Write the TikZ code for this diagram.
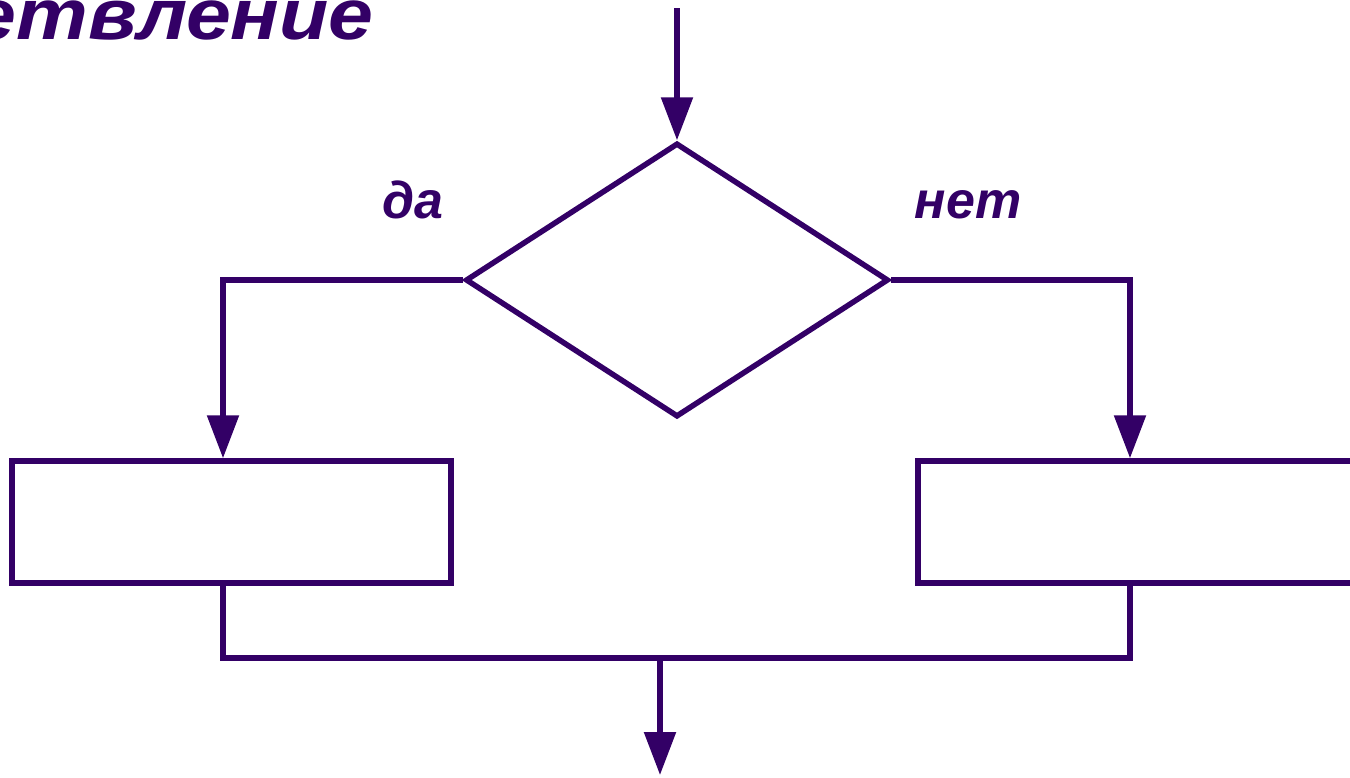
\documentclass[tikz,border=0pt]{standalone}
\usepackage{fontspec}
\setmainfont{Liberation Sans}
\usetikzlibrary{shapes.geometric,arrows.meta}
\definecolor{ink}{HTML}{330066}
\tikzset{
  line/.style={draw=ink, line width=5.5pt},
  arr/.style={line, -{Triangle[length=43pt,width=31pt]}},
  blockbox/.style={line, rectangle, inner sep=0pt, minimum height=122pt},
  label/.style={text=ink, font=\bfseries\itshape\fontsize{52}{60}\selectfont, anchor=base, inner sep=0pt},
}
\begin{document}
\begin{tikzpicture}[x=1pt, y=-1pt]
  \useasboundingbox (0,0) rectangle (1350,777);
  \clip (0,0) rectangle (1350,777);
  \node[text=ink, font=\bfseries\itshape\fontsize{72}{80}\selectfont, anchor=base east, inner sep=0pt] (title) at (374,39) {\scalebox{1.12}[1]{Разветвление}};
  \coordinate (in) at (677,8);
  \node[line, diamond, inner sep=0pt, minimum width=423pt, minimum height=274pt] (dia) at (677,280) {};
  \node[blockbox, minimum width=439pt] (L) at (231.5,522) {};
  \node[blockbox, minimum width=450pt] (R) at (1143,522) {};
  \coordinate (lx) at (223,0);
  \coordinate (rx) at (1130,0);
  \coordinate (join) at (660,658);
  \coordinate (out) at (660,775);
  \draw[arr] (in) -- (dia.north);
  \draw[arr] (dia.west) -| (lx |- L.north);
  \draw[arr] (dia.east) -| (rx |- R.north);
  \draw[line] (lx |- L.south) -- (lx |- join) -- (rx |- join) -- (rx |- R.south);
  \draw[arr] (join) -- (out);
  \node[label] (da) at (413,218) {да};
  \node[label] (net) at (968,218) {нет};
\end{tikzpicture}
\end{document}
